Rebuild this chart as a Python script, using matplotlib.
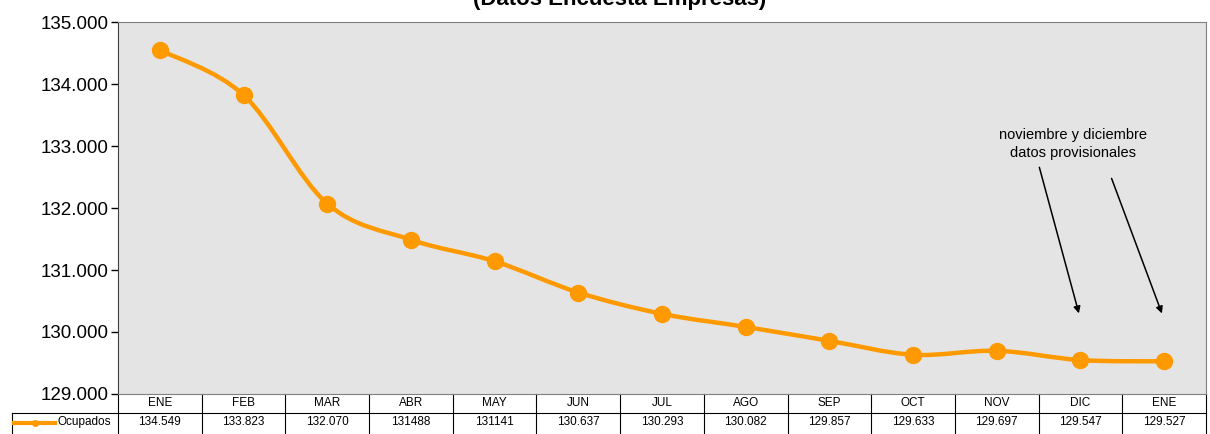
import matplotlib.pyplot as plt
from matplotlib.path import Path
from matplotlib.patches import PathPatch

# ----------------------------------------------------------------------
# data
# ----------------------------------------------------------------------
meses = ["ENE", "FEB", "MAR", "ABR", "MAY", "JUN", "JUL",
         "AGO", "SEP", "OCT", "NOV", "DIC", "ENE"]
ocupados = [134549, 133823, 132070, 131488, 131141, 130637, 130293,
            130082, 129857, 129633, 129697, 129547, 129527]
etiquetas = ["134.549", "133.823", "132.070", "131488", "131141", "130.637",
             "130.293", "130.082", "129.857", "129.633", "129.697",
             "129.547", "129.527"]
y_ticks = [129000, 130000, 131000, 132000, 133000, 134000, 135000]
y_labels = ["129.000", "130.000", "131.000", "132.000", "133.000",
            "134.000", "135.000"]

NARANJA = "#FF9900"
plt.rcParams["font.family"] = ["Liberation Sans", "DejaVu Sans"]

fig = plt.figure(figsize=(12.1, 4.34), dpi=100)
ax = fig.add_axes([0.0975, 0.0922, 0.8992, 0.857])
ax.set_facecolor("#e4e4e4")

x = list(range(len(ocupados)))

# smoothed line (bezier through the points, like excel)
verts = [(x[0], ocupados[0])]
codes = [Path.MOVETO]
n = len(x)
for i in range(n - 1):
    p0 = (x[max(i - 1, 0)], ocupados[max(i - 1, 0)])
    p1 = (x[i], ocupados[i])
    p2 = (x[i + 1], ocupados[i + 1])
    p3 = (x[min(i + 2, n - 1)], ocupados[min(i + 2, n - 1)])
    c1 = (p1[0] + (p2[0] - p0[0]) / 6, p1[1] + (p2[1] - p0[1]) / 6)
    c2 = (p2[0] - (p3[0] - p1[0]) / 6, p2[1] - (p3[1] - p1[1]) / 6)
    verts += [c1, c2, p2]
    codes += [Path.CURVE4] * 3
ax.add_patch(PathPatch(Path(verts, codes), fill=False, edgecolor=NARANJA,
                       lw=3.2, capstyle="round", zorder=3))
ax.plot(x, ocupados, "o", color=NARANJA, ms=11.5, zorder=4)

ax.set_xlim(-0.5, n - 0.5)
ax.set_ylim(129000, 135000)
ax.set_yticks(y_ticks)
ax.set_yticklabels(y_labels, fontsize=13.5)
ax.set_xticks([])
ax.tick_params(axis="y", length=5, width=1, pad=2)

for s in ["top", "bottom", "right"]:
    ax.spines[s].set_color("#808080")
ax.spines["left"].set_color("#404040")

# title (partially cut at the top, as in the original)
fig.text(0.512, 1 - 5 / 434, "(Datos Encuesta Empresas)", ha="center",
         va="baseline", fontsize=16, fontweight="bold")

# annotation
ax.text(10.91, 133030, "noviembre y diciembre\ndatos provisionales",
        ha="center", va="center", fontsize=10.5, linespacing=1.4)
ax.annotate("", xy=(10.99, ocupados[11] + 710), xytext=(10.50, 132700),
            arrowprops=dict(arrowstyle="-|>", color="black", lw=1.1,
                            mutation_scale=10))
ax.annotate("", xy=(11.985, ocupados[12] + 730), xytext=(11.36, 132520),
            arrowprops=dict(arrowstyle="-|>", color="black", lw=1.1,
                            mutation_scale=10))

# data table under the chart
row_h = 19 / 372
edge = -106 / 1088 * n - 0.5
xt = ax.get_xaxis_transform()
kw = dict(color="black", lw=0.8, clip_on=False, transform=xt)
ax.plot([-0.5, n - 0.5], [-row_h, -row_h], **kw)
ax.plot([edge, -0.5], [-row_h, -row_h], **kw)
ax.plot([edge, edge], [-row_h, -2.2 * row_h], **kw)
for i in range(n + 1):
    ax.plot([i - 0.5, i - 0.5], [0, -2.2 * row_h], **kw)
for i in range(n):
    ax.text(i, -0.5 * row_h, meses[i], ha="center", va="center",
            fontsize=8.5, transform=xt)
    ax.text(i, -1.5 * row_h, etiquetas[i], ha="center", va="center",
            fontsize=8.5, transform=xt)
ax.plot([edge + 0.03, edge + 0.27, edge + 0.52], [-1.55 * row_h] * 3,
        color=NARANJA, lw=3, marker="o", ms=4, markevery=[1],
        clip_on=False, transform=xt)
ax.text(edge + 0.54, -1.5 * row_h, "Ocupados", ha="left", va="center",
        fontsize=8.5, transform=xt)

fig.savefig("out.png", dpi=100)
